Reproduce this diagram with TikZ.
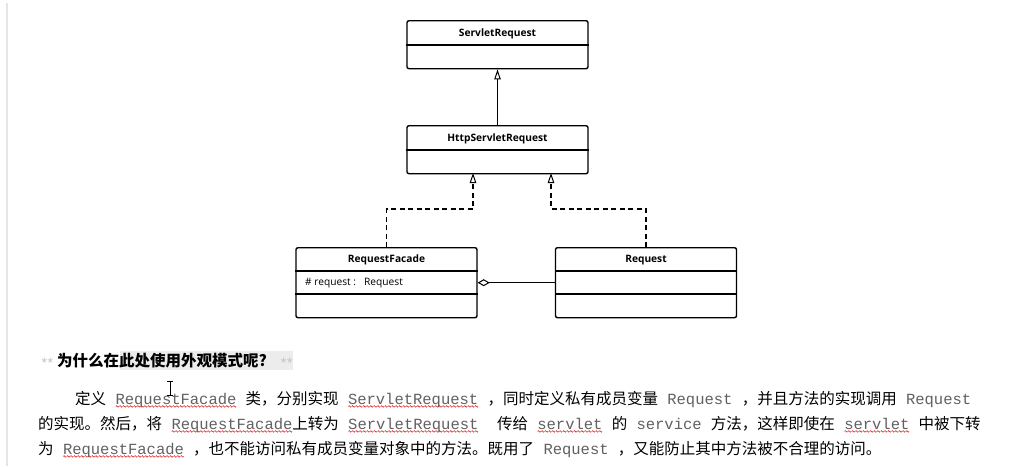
\documentclass[tikz,border=0pt]{standalone}
\usepackage{fontspec}
\setmainfont{Open Sans}
\setmonofont{Liberation Mono}
\newfontfamily\cjk{Noto Sans CJK SC}
\usetikzlibrary{arrows.meta,positioning,calc}
\definecolor{codegray}{gray}{0.38}
\definecolor{wavered}{RGB}{215,30,30}
\newsavebox\wavebox
\AtBeginDocument{\global\setbox\wavebox\hbox{\pgfpicture
  \pgfsetlinewidth{0.55pt}\pgfsetstrokecolor{wavered}
  \pgfpathmoveto{\pgfpoint{0pt}{0pt}}
  \pgfpathsine{\pgfpoint{0.75pt}{0.8pt}}\pgfpathcosine{\pgfpoint{0.75pt}{-0.8pt}}
  \pgfpathsine{\pgfpoint{0.75pt}{-0.8pt}}\pgfpathcosine{\pgfpoint{0.75pt}{0.8pt}}
  \pgfusepath{stroke}
  \pgfpathrectangle{\pgfpoint{0pt}{-1pt}}{\pgfpoint{3pt}{2pt}}\pgfusepath{use as bounding box}
  \endpgfpicture}}
\newcommand\redwave[1]{\setbox0\hbox{#1}\rlap{\raisebox{-3.5pt}[0pt][0pt]{\hbox to\wd0{\xleaders\copy\wavebox\hfil}}}\box0}
\newcommand\cw[2][\ ]{{\ttfamily\color{codegray}\ #2#1}}
\newcommand\cu[2][\ ]{{\ttfamily\color{codegray}\ \redwave{#2}#1}}

\begin{document}
\begin{tikzpicture}[x=1pt,y=-1pt,font=\fontsize{10.2}{12}\selectfont,
  cls/.style={draw,line width=1.4pt,rounded corners=2pt,minimum width=181pt,inner sep=0pt,anchor=north},
  ttl/.style={font=\bfseries\fontsize{10.2}{12}\selectfont},
  sep/.style={line width=1.4pt},
  gen/.style={line width=1.4pt,-{Triangle[open,width=6.5pt,length=10pt,line width=1pt]}},
  real/.style={gen,dash pattern=on 5pt off 3.5pt},
  agg/.style={line width=1.4pt,{Diamond[open,width=7pt,length=12pt,line width=1pt]}-},
  zh/.style={anchor=base west,inner sep=0pt,font=\cjk\fontsize{15.5}{18}\selectfont}]
\fill[white] (0,0) rectangle (1024,466);
\useasboundingbox (0,0) rectangle (1024,466);
\draw[gray!20,line width=1.2pt] (7,3)--(7,466);
% interfaces
\foreach \n/\x/\y/\t in {srv/497.5/20/ServletRequest,http/497.5/125/HttpServletRequest}{
  \node[cls,minimum height=48pt] (\n) at (\x,\y) {};
  \draw[sep] ([yshift=-25pt]\n.north west)--([yshift=-25pt]\n.north east);
  \node[ttl] (\n-t) at ([yshift=-13.5pt]\n.north) {\t};}
% classes
\foreach \n/\x/\t in {fac/386.5/RequestFacade,req/646/Request}{
  \node[cls,minimum height=70pt] (\n) at (\x,247) {};
  \draw[sep] ([yshift=-24pt]\n.north west)--([yshift=-24pt]\n.north east);
  \draw[sep] ([yshift=-47pt]\n.north west)--([yshift=-47pt]\n.north east);
  \node[ttl] (\n-t) at ([yshift=-13pt]\n.north) {\t};}
\node[anchor=west,inner sep=0pt] (fac-a) at (305,283) {\#\ request :\ \ \ Request};
\coordinate (hl) at (473,173); \coordinate (hr) at (551,173);
\draw[gen] (http)--(srv);
\draw[real] (fac.north) |- ([yshift=-36pt]hl)--(hl);
\draw[real] (req.north) |- ([yshift=-36pt]hr)--(hr);
\draw[agg] (fac.east)--(req.west);
% text below
\fill[gray!15] (120,351) rectangle (293,370);
\node[zh,font=\cjk\bfseries\fontsize{15.5}{18}\selectfont] (hd) at (57,366) {为什么在此处使用外观模式呢?};
\node[anchor=base east,text=gray!50,font=\fontsize{11}{11}\selectfont] (st1) at (hd.base west) {**};
\node[anchor=base west,text=gray!50,font=\fontsize{11}{11}\selectfont] (st2) at ([xshift=10pt]hd.base east) {**};
\node[zh] (l1) at (75,404) {定义\cu{RequestFacade}类，分别实现\cu{ServletRequest}，同时定义私有成员变量\cw{Request}，并且方法的实现调用\cw[]{Request}};
\node[zh] (l2) at (38,429) {的实现。然后，将\cu[]{RequestFacade}上转为\cu[\ \ ]{ServletRequest}传给\cu{servlet}的\cw{service}方法，这样即使在\cu{servlet}中被下转};
\node[zh] (l3) at (38,454) {为\cu{RequestFacade}，也不能访问私有成员变量对象中的方法。既用了\cw{Request}，又能防止其中方法被不合理的访问。};
\draw[line width=0.8pt] (167,381)--(173,381) (170,381)--(170,395) (167,395)--(173,395);
\end{tikzpicture}
\end{document}
